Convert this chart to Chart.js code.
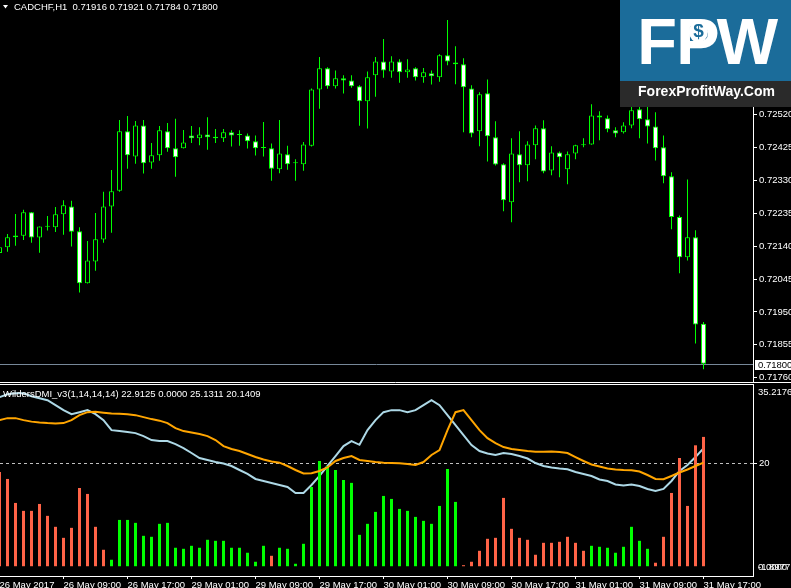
<!DOCTYPE html>
<html><head><meta charset="utf-8">
<script src="https://cdn.jsdelivr.net/npm/chart.js@4.4.1/dist/chart.umd.min.js"></script>
<style>
html,body{margin:0;padding:0;background:#000;width:791px;height:588px;overflow:hidden}
canvas{position:absolute;left:0}
#main{top:0}
#ind{top:383px}
</style></head><body>
<canvas id="main" width="791" height="383"></canvas>
<canvas id="ind" width="791" height="205"></canvas>
<script>
// ---------- DATA ----------
const symbolTitle = 'CADCHF,H1';
const firstBar = -1; // index of first (partly visible) bar
const open = [0.72120,0.72137,0.72166,0.72170,0.72238,0.72165,0.72196,0.72195,0.72232,0.72255,0.72183,0.72033,0.72096,0.72159,0.72255,0.72300,0.72472,0.72399,0.72489,0.72382,0.72403,0.72472,0.72423,0.72423,0.72460,0.72452,0.72463,0.72452,0.72452,0.72469,0.72463,0.72460,0.72443,0.72424,0.72423,0.72362,0.72406,0.72380,0.72377,0.72430,0.72593,0.72654,0.72602,0.72625,0.72619,0.72602,0.72559,0.72634,0.72674,0.72645,0.72674,0.72643,0.72654,0.72628,0.72640,0.72628,0.72692,0.72671,0.72666,0.72596,0.72472,0.72582,0.72455,0.72377,0.72267,0.72406,0.72374,0.72432,0.72481,0.72359,0.72411,0.72362,0.72408,0.72432,0.72434,0.72518,0.72510,0.72475,0.72469,0.72489,0.72536,0.72507,0.72486,0.72426,0.72342,0.72224,0.72108,0.72166,0.71916];
const high = [0.72143,0.72175,0.72233,0.72245,0.72239,0.72197,0.72227,0.72253,0.72273,0.72271,0.72195,0.72155,0.72236,0.72297,0.72360,0.72505,0.72516,0.72502,0.72505,0.72438,0.72487,0.72496,0.72508,0.72476,0.72487,0.72484,0.72513,0.72479,0.72479,0.72475,0.72475,0.72466,0.72460,0.72499,0.72437,0.72505,0.72430,0.72391,0.72441,0.72596,0.72687,0.72657,0.72648,0.72634,0.72634,0.72605,0.72645,0.72687,0.72739,0.72689,0.72680,0.72680,0.72657,0.72655,0.72648,0.72695,0.72794,0.72718,0.72683,0.72605,0.72585,0.72622,0.72501,0.72380,0.72452,0.72472,0.72443,0.72489,0.72504,0.72429,0.72414,0.72414,0.72433,0.72452,0.72550,0.72530,0.72518,0.72484,0.72498,0.72543,0.72548,0.72551,0.72527,0.72460,0.72354,0.72229,0.72333,0.72186,0.71921];
const low = [0.72112,0.72124,0.72141,0.72158,0.72150,0.72121,0.72185,0.72181,0.72173,0.72139,0.72006,0.72032,0.72069,0.72150,0.72179,0.72297,0.72364,0.72378,0.72350,0.72364,0.72387,0.72413,0.72341,0.72422,0.72438,0.72432,0.72419,0.72438,0.72441,0.72428,0.72430,0.72422,0.72402,0.72399,0.72329,0.72351,0.72361,0.72329,0.72358,0.72428,0.72537,0.72595,0.72596,0.72581,0.72598,0.72488,0.72480,0.72572,0.72627,0.72627,0.72612,0.72627,0.72619,0.72612,0.72607,0.72615,0.72663,0.72608,0.72469,0.72455,0.72429,0.72385,0.72373,0.72241,0.72209,0.72325,0.72328,0.72391,0.72351,0.72345,0.72339,0.72319,0.72391,0.72426,0.72433,0.72446,0.72469,0.72455,0.72466,0.72481,0.72452,0.72437,0.72388,0.72322,0.72189,0.72062,0.72099,0.71859,0.71784];
const close = [0.72137,0.72166,0.72171,0.72238,0.72165,0.72197,0.72196,0.72232,0.72258,0.72182,0.72033,0.72099,0.72160,0.72255,0.72299,0.72472,0.72403,0.72489,0.72380,0.72403,0.72475,0.72423,0.72397,0.72440,0.72452,0.72463,0.72455,0.72456,0.72469,0.72460,0.72461,0.72443,0.72423,0.72424,0.72364,0.72408,0.72377,0.72380,0.72434,0.72593,0.72654,0.72602,0.72625,0.72619,0.72602,0.72559,0.72628,0.72674,0.72648,0.72674,0.72643,0.72651,0.72628,0.72643,0.72631,0.72692,0.72674,0.72666,0.72599,0.72466,0.72579,0.72458,0.72376,0.72273,0.72408,0.72374,0.72434,0.72481,0.72356,0.72411,0.72397,0.72406,0.72432,0.72432,0.72518,0.72512,0.72478,0.72466,0.72489,0.72533,0.72507,0.72486,0.72423,0.72342,0.72224,0.72108,0.72166,0.71914,0.71800];

// WildersDMI_v3 buffers
const dmiBlue = [32.85,33.43,33.62,33.62,33.04,32.66,32.27,31.30,30.33,29.55,29.94,30.33,29.55,28.39,26.45,26.26,26.07,25.87,25.29,24.52,24.32,24.32,23.74,22.97,22.00,21.03,20.64,20.25,19.96,19.48,18.70,17.93,16.96,16.57,16.18,15.79,15.41,14.24,14.24,15.79,17.54,19.48,21.41,23.35,24.32,
  23.6,26.45,28.39,29.94,30.33,30.33,29.94,30.33,31.30,32.27,31.30,29.36,27.42,25.48,23.55,
  22.38,21.90,21.61,22.00,21.80,21.41,20.93,20.06,19.48,19.19,18.99,18.84,18.31,17.93,17.54,16.86,16.57,15.89,15.70,15.89,15.60,15.02,14.63,15.02,16.57,18.51,19.67,21.22,22.9125];
const dmiOrange = [28.39,28.78,28.78,28.39,28.10,27.91,27.81,27.75,27.81,28.39,29.36,29.94,30.00,29.84,29.69,29.65,29.55,29.36,28.97,28.59,28.29,27.81,26.84,26.26,25.97,25.68,25.29,24.52,23.35,22.77,22.38,21.80,21.22,20.74,20.35,20.12,19.48,18.70,18.02,18.06,18.51,19.19,20.45,21.03,21.41,
  20.64,20.45,20.25,20.10,20.06,20.00,19.86,19.67,20.25,21.61,22.58,
  26.45,29.94,30.33,28.39,26.45,24.90,23.93,23.16,22.77,22.58,22.38,22.25,22.25,22.29,22.19,22.00,21.22,20.45,19.77,19.38,18.99,18.80,18.70,18.64,18.41,17.73,16.96,16.90,17.54,18.22,18.80,19.48,20.1409];
const histUp = [0,0,0,0,0,0,0,0,0,0,0,0,0,0,
  1.26,9.0,9.0,8.43,5.91,5.72,8.24,8.43,3.59,3.39,3.97,3.59,5.14,4.94,4.94,3.59,3.59,2.62,0.87,3.97,
  0,
  3.59,3.39,0.48,4.36,15.4,20.45,19.5,18.7,16.76,16.2,6.1,8.24,10.56,13.66,13.08,11.14,10.76,9.59,8.82,8.24,11.72,18.9,12.5,
  0,0,0,0,0,0,0,0,0,0,0,0,0,0,0,0,
  3.97,3.78,3.59,2.62,3.78,7.66,4.94,3.39,
  0,0,0,0,0,0,0];
const histDown = [18.3,16.96,12.3,10.76,10.76,12.1,9.79,7.66,5.52,7.46,15.2,14.05,7.66,3.2,
  0,0,0,0,0,0,0,0,0,0,0,0,0,0,0,0,0,0,0,0,
  2.03,
  0,0,0,0,0,0,0,0,0,0,0,0,0,0,0,0,0,0,0,0,0,0,0,
  0.2,0.87,3.0,5.33,5.52,13.28,7.27,5.52,5.14,2.23,4.55,4.55,4.75,5.72,4.55,3.0,
  0,0,0,0,0,0,0,0,
  0.68,5.72,14.24,21.03,11.72,23.5,25.1311];
const dmiParams = 'WildersDMI_v3(1,14,14,14)';
const dmiLevel = 20;

// axis ticks
const priceTicks = [0.72520,0.72425,0.72330,0.72235,0.72140,0.72045,0.71950,0.71855,0.71760];
const timeTickBars = [-1,7,15,23,31,39,47,55,63,71,79,87];
const timeTickLabels = ['26 May 2017','26 May 09:00','26 May 17:00','29 May 01:00','29 May 09:00','29 May 17:00','30 May 01:00','30 May 09:00','30 May 17:00','31 May 01:00','31 May 09:00','31 May 17:00'];
const dmiScaleMax = 35.2176, dmiScaleMin = -1.8977;
const priceScaleMax = 0.728515, priceScaleMin = 0.717475;
const barRangeMin = -0.9375, barRangeMax = 93.1875;

// ---------- STYLE ----------
const FAM = '"Liberation Sans", Arial, sans-serif';
const FS = 9.5;
const FONT = FS + 'px ' + FAM;
const GREEN = '#00ff00';
const LOGO_BLUE = '#1b6c9a';

const xs = open.map((_, i) => i + firstBar);
const last = close.length - 1;

// ---------- MAIN CHART ----------
const mainDecor = {
  id: 'mainDecor',
  beforeDatasetsDraw(chart) {
    const {ctx, chartArea: a, scales: {y}} = chart;
    const py = Math.round(y.getPixelForValue(close[last])) + 0.5;
    ctx.save();
    ctx.strokeStyle = '#778899'; ctx.lineWidth = 1;
    ctx.beginPath(); ctx.moveTo(a.left, py); ctx.lineTo(a.right, py); ctx.stroke();
    ctx.restore();
  },
  afterDraw(chart) {
    const {ctx, chartArea: a, scales: {y}} = chart;
    ctx.save();
    // separator
    ctx.strokeStyle = '#fff'; ctx.lineWidth = 1;
    ctx.beginPath(); ctx.moveTo(0, a.bottom + 0.5); ctx.lineTo(chart.width, a.bottom + 0.5); ctx.stroke();
    // bid price box
    const py = Math.round(y.getPixelForValue(close[last]));
    ctx.fillStyle = '#fff';
    ctx.fillRect(a.right + 2, py - 4, chart.width - a.right - 2, 10);
    ctx.fillStyle = '#000'; ctx.font = FONT; ctx.textBaseline = 'middle'; ctx.textAlign = 'left';
    ctx.fillText(close[last].toFixed(5), a.right + 5, py + 1);
    // title
    ctx.fillStyle = '#fff';
    ctx.beginPath(); ctx.moveTo(3, 5); ctx.lineTo(8, 5); ctx.lineTo(5.5, 8.5); ctx.closePath(); ctx.fill();
    ctx.fillText(symbolTitle + '  ' + [open[last], high[last], low[last], close[last]].map(v => v.toFixed(5)).join(' '), 14, 7);
    // logo
    ctx.fillStyle = LOGO_BLUE; ctx.fillRect(620, 0, 171, 81);
    ctx.fillStyle = '#2a2a2a'; ctx.fillRect(620, 81, 171, 26);
    ctx.fillStyle = '#fff'; ctx.textAlign = 'center'; ctx.textBaseline = 'alphabetic';
    ctx.font = 'bold 65px ' + FAM;
    ctx.fillText('F', 657, 63.5); ctx.fillText('P', 698, 63.5); ctx.fillText('W', 747.5, 63.5);
    // white bowl of the P with a blue dollar sign inside
    ctx.beginPath(); ctx.ellipse(698.5, 31.5, 9.5, 11, 0, 0, Math.PI * 2); ctx.fill();
    ctx.fillStyle = LOGO_BLUE; ctx.font = 'bold 19px ' + FAM;
    ctx.textBaseline = 'middle';
    ctx.fillText('$', 698.5, 31.5);
    ctx.textBaseline = 'alphabetic';
    ctx.fillStyle = '#fff'; ctx.font = 'bold 14px ' + FAM;
    ctx.fillText('ForexProfitWay.Com', 706.5, 96);
    ctx.restore();
  }
};

new Chart(document.getElementById('main'), {
  type: 'bar',
  data: {
    datasets: [
      {
        label: 'body',
        data: xs.map((x, i) => ({x, y: [open[i], close[i]]})),
        backgroundColor: xs.map((x, i) => Math.abs(close[i] - open[i]) < 0.000045 ? GREEN : (close[i] > open[i] ? '#000' : '#fff')),
        borderColor: GREEN, borderWidth: 1, borderSkipped: false,
        barThickness: 5, grouped: false, minBarLength: 1, inflateAmount: 0, order: 0
      },
      {
        label: 'wick',
        data: xs.map((x, i) => ({x, y: [low[i], high[i]]})),
        backgroundColor: GREEN, borderWidth: 0,
        barThickness: 1, grouped: false, inflateAmount: 0, order: 1
      }
    ]
  },
  options: {
    responsive: false, animation: false, events: [],
    layout: {padding: {top: 0, left: 0, right: 0, bottom: 1}},
    plugins: {legend: {display: false}, tooltip: {enabled: false}},
    scales: {
      x: {type: 'linear', display: false, min: barRangeMin, max: barRangeMax, offset: false},
      y: {
        position: 'right', min: priceScaleMin, max: priceScaleMax,
        afterBuildTicks: s => { s.ticks = priceTicks.map(v => ({value: v})); },
        afterFit: s => { s.width = 38; s.paddingTop = 0; s.paddingBottom = 0; },
        ticks: {color: '#fff', font: {family: FAM, size: FS}, padding: 2, autoSkip: false, callback: v => v.toFixed(5)},
        grid: {drawOnChartArea: false, drawTicks: true, tickLength: 4, color: '#fff'},
        border: {display: true, color: '#fff'}
      }
    }
  },
  plugins: [mainDecor]
});

// ---------- INDICATOR ----------
const indDecor = {
  id: 'indDecor',
  beforeDatasetsDraw(chart) {
    const {ctx, chartArea: a, scales: {y}} = chart;
    const py = Math.round(y.getPixelForValue(dmiLevel)) + 0.5;
    ctx.save();
    ctx.strokeStyle = '#c0c0c0'; ctx.lineWidth = 1; ctx.setLineDash([3, 3]);
    ctx.beginPath(); ctx.moveTo(a.left, py); ctx.lineTo(a.right, py); ctx.stroke();
    ctx.restore();
  },
  afterDraw(chart) {
    const {ctx, chartArea: a, scales: {y}} = chart;
    ctx.save();
    ctx.strokeStyle = '#fff'; ctx.lineWidth = 1;
    ctx.beginPath(); ctx.moveTo(0, a.top - 0.5); ctx.lineTo(a.right + 1, a.top - 0.5); ctx.stroke();
    ctx.fillStyle = '#fff'; ctx.font = FONT; ctx.textBaseline = 'middle'; ctx.textAlign = 'left';
    ctx.fillText(dmiScaleMax.toFixed(4), a.right + 5, a.top + 7);
    const p0 = y.getPixelForValue(0);
    ctx.fillText('0.0000', a.right + 5, p0 + 1);
    ctx.fillText(dmiScaleMin.toFixed(4), a.right + 5, p0 + 1);
    const vals = [dmiBlue[last], histUp[last], histDown[last], dmiOrange[last]].map(v => v.toFixed(4)).join(' ');
    ctx.fillText(dmiParams + ' ' + vals, 3, a.top + 9);
    ctx.restore();
  }
};

new Chart(document.getElementById('ind'), {
  type: 'bar',
  data: {
    datasets: [
      {type: 'line', label: 'orange', data: xs.map((x, i) => ({x, y: dmiOrange[i]})), borderColor: '#ffa500', borderWidth: 2, pointRadius: 0, tension: 0, order: 0},
      {label: 'down', data: xs.map((x, i) => ({x, y: histDown[i]})), backgroundColor: '#ff6347', barThickness: 3, grouped: false, inflateAmount: 0, order: 1},
      {label: 'up', data: xs.map((x, i) => ({x, y: histUp[i]})), backgroundColor: GREEN, barThickness: 3, grouped: false, inflateAmount: 0, order: 2},
      {type: 'line', label: 'blue', data: xs.map((x, i) => ({x, y: dmiBlue[i]})), borderColor: '#add8e6', borderWidth: 2, pointRadius: 0, tension: 0, order: 3}
    ]
  },
  options: {
    responsive: false, animation: false, events: [],
    layout: {padding: {top: 2, left: 0, right: 0, bottom: 0}},
    plugins: {legend: {display: false}, tooltip: {enabled: false}},
    scales: {
      x: {
        type: 'linear', min: barRangeMin, max: barRangeMax, offset: false,
        afterBuildTicks: s => { s.ticks = timeTickBars.map(v => ({value: v})); },
        afterFit: s => { s.height = 12; s.paddingLeft = 0; s.paddingRight = 0; },
        ticks: {color: '#fff', font: {family: FAM, size: FS}, padding: 1, autoSkip: false, maxRotation: 0, minRotation: 0, align: 'start',
          callback: (v, i) => timeTickLabels[i]},
        grid: {drawOnChartArea: false, drawTicks: true, tickLength: 3, color: '#fff', offset: false},
        border: {display: true, color: '#fff'}
      },
      y: {
        position: 'right', min: dmiScaleMin, max: dmiScaleMax,
        afterBuildTicks: s => { s.ticks = [{value: dmiLevel}]; },
        afterFit: s => { s.width = 38; s.paddingTop = 0; s.paddingBottom = 0; },
        ticks: {color: '#fff', font: {family: FAM, size: FS}, padding: 2, autoSkip: false, callback: v => String(v)},
        grid: {drawOnChartArea: false, drawTicks: true, tickLength: 4, color: '#fff'},
        border: {display: true, color: '#fff'}
      }
    }
  },
  plugins: [indDecor]
});
</script>
</body></html>
